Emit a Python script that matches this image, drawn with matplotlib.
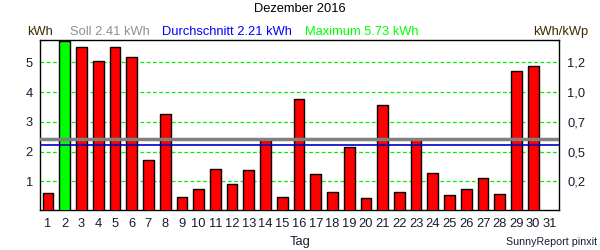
import matplotlib
matplotlib.use("Agg")
import matplotlib.pyplot as plt

plt.rcParams['font.family'] = ['Liberation Sans', 'DejaVu Sans']

days = list(range(1, 32))
values = [0.60, 5.73, 5.52, 5.05, 5.52, 5.18, 1.71, 3.26, 0.46, 0.73,
          1.41, 0.90, 1.37, 2.39, 0.46, 3.77, 1.24, 0.63, 2.15, 0.43,
          3.56, 0.63, 2.43, 1.27, 0.53, 0.73, 1.10, 0.56, 4.71, 4.88, 0.0]
soll = 2.41
avg = 2.21
maximum = 5.73
left_ticks = [1, 2, 3, 4, 5]
right_labels = ["0,2", "0,5", "0,7", "1,0", "1,2"]

fs = 9.3

fig = plt.figure(figsize=(6, 2.5), dpi=100)
ax = fig.add_axes([40/600, 1 - 209.5/250, 519/600, 169.5/250])

colors = ['#00ff00' if v == maximum else '#ff0000' for v in values]
ax.bar(days, values, width=0.64, color=colors, edgecolor='black', linewidth=1.0, zorder=3)

for t in left_ticks:
    ax.axhline(t, color='#00ee00', linestyle=(0, (3, 2)), linewidth=0.9, zorder=1)
ax.axhline(soll, color='#808080', linewidth=2.5, zorder=4)
ax.axhline(avg, color='#0000c0', linewidth=1.2, zorder=4)

ax.set_xlim(0.52, 31.54)
ax.set_ylim(0.05, 5.75)
ax.set_xticks(days)
ax.set_xticklabels([str(d) for d in days])
ax.set_yticks(left_ticks)
ax.set_yticklabels([str(t) for t in left_ticks])
ax.tick_params(axis='both', length=0, labelsize=fs, colors='#1a1a30', pad=5)
ax.tick_params(axis='x', pad=6)
for s in ax.spines.values():
    s.set_linewidth(1.0)
    s.set_color('black')

ax2 = ax.twinx()
ax2.set_ylim(ax.get_ylim())
ax2.set_yticks(left_ticks)
ax2.set_yticklabels(right_labels)
ax2.tick_params(axis='y', length=0, labelsize=fs, colors='#1a1a30', pad=6)
for s in ax2.spines.values():
    s.set_visible(False)

fig.text(300/600, 1 - 9/250, "Dezember 2016", ha='center', va='center', fontsize=fs, color='black')
fig.text(27/600, 1 - 32/250, "kWh", ha='left', va='center', fontsize=fs, color='#402800')
fig.text(70/600, 1 - 32/250, f"Soll {soll:.2f} kWh", ha='left', va='center', fontsize=fs, color='#909090')
fig.text(162/600, 1 - 32/250, f"Durchschnitt {avg:.2f} kWh", ha='left', va='center', fontsize=fs, color='#0000ff')
fig.text(305/600, 1 - 32/250, f"Maximum {maximum:.2f} kWh", ha='left', va='center', fontsize=fs, color='#00ff00')
fig.text(588/600, 1 - 32/250, "kWh/kWp", ha='right', va='center', fontsize=fs, color='#402800')
fig.text(300/600, 1 - 242/250, "Tag", ha='center', va='center', fontsize=fs, color='#1a1a30')
fig.text(597/600, 1 - 242/250, "SunnyReport pinxit", ha='right', va='center', fontsize=7.7, color='#1a1a30')

fig.savefig("out.png", dpi=100, facecolor='white')
